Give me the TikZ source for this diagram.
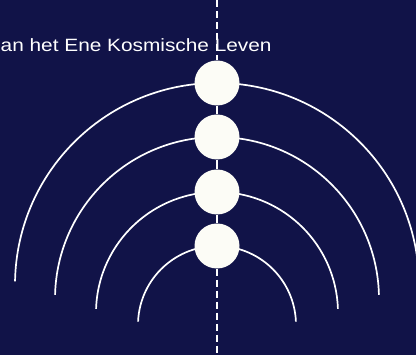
\documentclass[tikz,border=0pt]{standalone}
\usepackage{fontspec}
\setmainfont{Liberation Sans}
\newfontfamily\titlefont[FakeStretch=1.17]{Liberation Sans}
\definecolor{bg}{RGB}{17,19,72}
\definecolor{orb}{RGB}{252,252,246}
\begin{document}
\begin{tikzpicture}[x=1pt,y=1pt,
  orbstyle/.style={circle,fill=orb,minimum size=45pt,inner sep=0pt},
  arcline/.style={draw=white,line width=1.7pt},
  axis/.style={draw=white,line width=1.7pt},
  axisdash/.style={axis,dash pattern=on 7pt off 4pt}]
\useasboundingbox (0,0) rectangle (416,355);
\fill[bg] (0,0) rectangle (416,355);
\clip (0,0) rectangle (416,355);
% arcs
\draw[arcline] ([shift={(179:202)}]217,70) arc[start angle=179,end angle=1,radius=202];
\draw[arcline] ([shift={(178.5:162)}]217,56) arc[start angle=178.5,end angle=1.5,radius=162];
\draw[arcline] ([shift={(178:121)}]217,42) arc[start angle=178,end angle=2,radius=121];
\draw[arcline] ([shift={(177.5:79)}]217,30) arc[start angle=177.5,end angle=2.5,radius=79];
% title
\node[anchor=base west,text=white,font=\titlefont\fontsize{17.8}{20}\selectfont,inner sep=0pt] (title) at (0.5,303) {an het Ene Kosmische Leven};
% axis
\coordinate (top) at (217,355);
\coordinate (bot) at (217,0);
\node[orbstyle] (o1) at (217,272) {};
\node[orbstyle] (o2) at (217,218) {};
\node[orbstyle] (o3) at (217,163) {};
\node[orbstyle] (o4) at (217,109) {};
\draw[axisdash] (top) -- (o1);
\draw[axis] (o1) -- (o2);
\draw[axis] (o2) -- (o3);
\draw[axis] (o3) -- (o4);
\draw[axisdash] (o4) -- (bot);
\end{tikzpicture}
\end{document}
